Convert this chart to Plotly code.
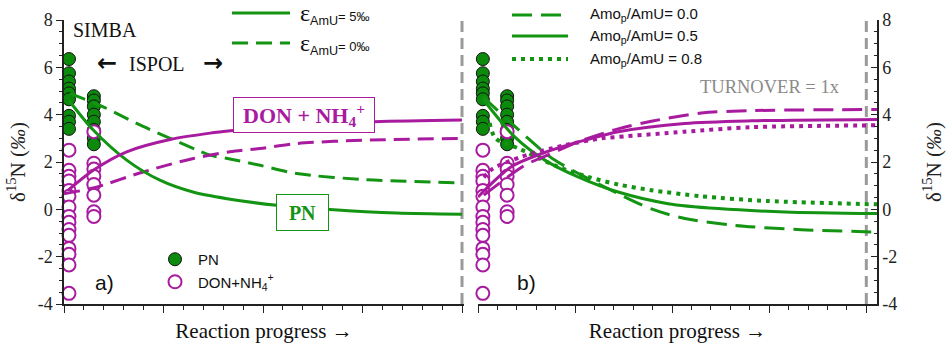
import plotly.graph_objects as go

# ---------------- data ----------------
SIMBA_X = 0.25
ISPOL_X = 1.5
TURNOVER_X = 20.0
TURNOVER_Y = [-4.0, 8.08]

simba_pn = [6.35, 5.75, 5.4, 5.1, 4.9, 4.65, 3.95, 3.7, 3.4]
ispol_pn = [4.78, 4.6, 4.35, 4.0, 3.7, 3.35, 3.0, 2.75]
simba_don = [2.5, 1.65, 1.4, 1.2, 0.8, 0.55, 0.1, -0.3, -0.55, -0.85, -1.1, -1.65, -1.9, -2.35, -3.55]
ispol_don = [3.28, 1.95, 1.7, 1.4, 1.05, 0.6, -0.1, -0.3]

# panel a) : epsilon AmU = 5 permil (solid) and 0 permil (dashed)
a_pn_eps5_x = [0.25, 1.47, 3.15, 4.82, 6.48, 8.19, 10.69, 13.37, 16.72, 20.0]
a_pn_eps5_y = [4.6, 3.35, 2.08, 1.23, 0.73, 0.45, 0.17, -0.01, -0.16, -0.21]
a_pn_eps0_x = [0.3, 1.97, 3.65, 5.33, 7.34, 8.34, 9.85, 11.69, 15.04, 20.0]
a_pn_eps0_y = [4.9, 4.33, 3.63, 3.0, 2.29, 2.13, 1.86, 1.51, 1.26, 1.12]
a_don_eps5_x = [0.2, 1.47, 3.15, 5.33, 7.34, 8.5, 11.5, 15.6, 20.0]
a_don_eps5_y = [0.8, 1.65, 2.43, 2.95, 3.22, 3.33, 3.56, 3.7, 3.77]
a_don_eps0_x = [0.0, 1.47, 3.98, 6.5, 8.34, 9.85, 11.69, 15.04, 20.0]
a_don_eps0_y = [0.66, 0.9, 1.58, 2.15, 2.43, 2.57, 2.78, 2.92, 3.0]

# panel b) : Amo_p/AmU = 0.0 (dashed), 0.5 (solid), 0.8 (dotted)
b_pn_00_x = [0.26, 2.58, 3.95, 7.22, 8.93, 10.65, 13.23, 16.66, 20.55]
b_pn_00_y = [4.75, 3.0, 2.08, 0.66, 0.02, -0.39, -0.68, -0.86, -0.96]
b_pn_05_x = [0.26, 1.89, 3.44, 5.15, 7.22, 9.79, 12.37, 15.81, 20.55]
b_pn_05_y = [4.65, 3.06, 2.08, 1.37, 0.73, 0.24, 0.03, -0.11, -0.18]
b_pn_08_x = [0.6, 0.9, 2.1, 4.1, 5.67, 7.22, 8.93, 11.5, 14.95, 20.55]
b_pn_08_y = [3.65, 3.0, 2.57, 1.8, 1.37, 1.05, 0.81, 0.55, 0.35, 0.21]
b_don_00_x = [0.3, 2.41, 3.78, 5.15, 7.22, 8.93, 11.5, 14.09, 20.55]
b_don_00_y = [0.6, 1.86, 2.36, 2.85, 3.4, 3.72, 4.07, 4.17, 4.22]
b_don_05_x = [0.0, 1.72, 3.78, 5.5, 7.22, 10.65, 14.09, 20.55]
b_don_05_y = [0.52, 1.8, 2.5, 2.92, 3.28, 3.63, 3.74, 3.8]
b_don_08_x = [0.3, 0.77, 2.23, 4.47, 6.36, 7.22, 10.65, 14.09, 20.55]
b_don_08_y = [1.35, 1.72, 2.22, 2.71, 3.0, 3.06, 3.28, 3.47, 3.55]

y_ticks = [-4, -2, 0, 2, 4, 6, 8]
y_ticktext = ["-4", "-2", "0", "2", "4", "6", "8"]

# ---------------- styling ----------------
W, H = 946, 349
ML, MR, MT, MB = 64, 69, 20, 45
PW = W - ML - MR
PH = H - MT - MB


def px(xp):
    return (xp - ML) / PW


def py(yp):
    return (H - MB - yp) / PH


GREEN = "#139413"
GREEN_FILL = "#0c8a0c"
PURPLE = "#a81b9f"
GRAY = "#9a9a9a"
SERIF = "Liberation Serif"
SANS = "Liberation Sans"
DASH_A = "16px,8px"
DASH_B = "20px,9px"
DOT = "4px,5px"

fig = go.Figure()

# turnover = 1x dashed lines (both panels)
for xa, ya in [("x", "y"), ("x2", "y2")]:
    fig.add_trace(go.Scatter(
        x=[TURNOVER_X, TURNOVER_X], y=TURNOVER_Y, mode="lines", showlegend=False,
        line=dict(color=GRAY, width=3, dash="11px,6px"), cliponaxis=False,
        xaxis=xa, yaxis=ya, hoverinfo="skip"))

# markers (both panels)
for xa, ya, show in [("x", "y", True), ("x2", "y2", False)]:
    fig.add_trace(go.Scatter(
        x=[SIMBA_X] * len(simba_pn) + [ISPOL_X] * len(ispol_pn),
        y=simba_pn + ispol_pn, mode="markers", name="PN",
        marker=dict(size=13, color=GREEN_FILL, line=dict(color="#111", width=1)),
        cliponaxis=False, xaxis=xa, yaxis=ya, showlegend=show))
    fig.add_trace(go.Scatter(
        x=[SIMBA_X] * len(simba_don) + [ISPOL_X] * len(ispol_don),
        y=simba_don + ispol_don, mode="markers", name="DON+NH<sub>4</sub><sup>+</sup>",
        marker=dict(size=13, color="white", line=dict(color=PURPLE, width=2)),
        cliponaxis=False, xaxis=xa, yaxis=ya, showlegend=show))


def curve(x, y, color, dash, width, xa, ya, name):
    fig.add_trace(go.Scatter(
        x=x, y=y, mode="lines", name=name, showlegend=False,
        line=dict(color=color, dash=dash, width=width, shape="spline", smoothing=0.8),
        cliponaxis=False, xaxis=xa, yaxis=ya))


curve(a_pn_eps0_x, a_pn_eps0_y, GREEN, DASH_A, 3, "x", "y", "PN eps0")
curve(a_don_eps0_x, a_don_eps0_y, PURPLE, DASH_A, 3, "x", "y", "DON eps0")
curve(a_pn_eps5_x, a_pn_eps5_y, GREEN, "solid", 3, "x", "y", "PN eps5")
curve(a_don_eps5_x, a_don_eps5_y, PURPLE, "solid", 3, "x", "y", "DON eps5")

curve(b_pn_00_x, b_pn_00_y, GREEN, DASH_B, 3, "x2", "y2", "PN 0.0")
curve(b_pn_05_x, b_pn_05_y, GREEN, "solid", 3, "x2", "y2", "PN 0.5")
curve(b_pn_08_x, b_pn_08_y, GREEN, DOT, 4, "x2", "y2", "PN 0.8")
curve(b_don_00_x, b_don_00_y, PURPLE, DASH_B, 3, "x2", "y2", "DON 0.0")
curve(b_don_05_x, b_don_05_y, PURPLE, "solid", 3, "x2", "y2", "DON 0.5")
curve(b_don_08_x, b_don_08_y, PURPLE, DOT, 4, "x2", "y2", "DON 0.8")

axis_common = dict(showgrid=False, zeroline=False, linecolor="#222", linewidth=1.5,
                   tickcolor="#222", tickwidth=1.2, mirror=False, automargin=False)

ytitle = dict(text="δ<sup>15</sup>N (<i>‰</i>)", font=dict(family=SERIF, size=21, color="#222"))
xtitle = dict(text="Reaction progress →", standoff=12,
              font=dict(family=SERIF, size=21, color="#111"))
tickfont = dict(family=SERIF, size=18, color="#222")

fig.update_layout(
    width=W, height=H, margin=dict(l=ML, r=MR, t=MT, b=MB, autoexpand=False),
    paper_bgcolor="white", plot_bgcolor="white",
    xaxis=dict(domain=[0, (464 - ML) / PW], range=[0, 20.1], anchor="y",
               showline=True, ticks="outside", ticklen=7, tickvals=[0, 5, 10, 15, 20],
               showticklabels=False,
               minor=dict(ticks="outside", ticklen=4, dtick=1, tickcolor="#222"),
               title=xtitle, **axis_common),
    yaxis=dict(domain=[0, 1], range=[-4, 8], anchor="x", showline=True,
               ticks="outside", ticklen=6, tickvals=y_ticks, ticktext=y_ticktext,
               tickfont=tickfont,
               minor=dict(ticks="outside", ticklen=3, dtick=0.5, tickcolor="#222"),
               title=dict(standoff=6, **ytitle), **axis_common),
    xaxis2=dict(domain=[(478 - ML) / PW, 1], range=[0, 20.55], anchor="y2",
                showline=True, ticks="outside", ticklen=7, tickvals=[0, 5, 10, 15, 20],
                showticklabels=False,
                minor=dict(ticks="outside", ticklen=4, dtick=1, tickcolor="#222"),
                title=xtitle, **axis_common),
    yaxis2=dict(domain=[0, 1], range=[-4, 8], anchor="x2", side="right", showline=True,
                ticks="inside", ticklen=6, tickvals=y_ticks, ticktext=y_ticktext,
                tickfont=tickfont,
                minor=dict(ticks="inside", ticklen=3, dtick=0.5, tickcolor="#222"),
                title=dict(standoff=30, **ytitle), **axis_common),
    legend=dict(x=px(152), y=py(243), xanchor="left", yanchor="top",
                bgcolor="rgba(0,0,0,0)", font=dict(family=SANS, size=15, color="#111"),
                tracegroupgap=0, itemwidth=36),
    showlegend=True,
)

shapes = []


def legline(x0, x1, y, color, dash, width):
    shapes.append(dict(type="line", xref="paper", yref="paper", x0=px(x0), x1=px(x1),
                       y0=py(y), y1=py(y), line=dict(color=color, dash=dash, width=width)))


legline(232, 290, 13, GREEN, "solid", 3)
legline(232, 290, 43, GREEN, DASH_A, 3)
legline(512, 568, 15, GREEN, DASH_B, 3)
legline(512, 568, 36, GREEN, "solid", 3)
legline(512, 568, 59, GREEN, DOT, 4)
fig.update_layout(shapes=shapes)

ann = []


def text(x, y, t, size, family=SERIF, color="#111", xanchor="center", **kw):
    ann.append(dict(x=px(x), y=py(y), xref="paper", yref="paper", text=t, showarrow=False,
                    xanchor=xanchor, yanchor="middle",
                    font=dict(family=family, size=size, color=color), **kw))


text(105, 30, "SIMBA", 20)
text(157, 64, "ISPOL", 20)
text(107, 63, "<b>←</b>", 24, family="DejaVu Sans")
text(213, 63, "<b>→</b>", 24, family="DejaVu Sans")
eps = "<span style='font-family:Liberation Serif;font-size:24px'>ε</span>"
rest5 = "<span style='font-size:13px'>= 5‰</span>"
rest0 = "<span style='font-size:13px'>= 0‰</span>"
text(298, 14, eps + "<sub>AmU</sub>" + rest5, 18, family=SANS, xanchor="left")
text(298, 44, eps + "<sub>AmU</sub>" + rest0, 18, family=SANS, xanchor="left")
text(588, 15, "Amo<sub>p</sub>/AmU= 0.0", 15, family=SANS, xanchor="left")
text(588, 36, "Amo<sub>p</sub>/AmU= 0.5", 15, family=SANS, xanchor="left")
text(588, 59, "Amo<sub>p</sub>/AmU = 0.8", 15, family=SANS, xanchor="left")
text(304, 115, "<b>DON + NH<sub>4</sub><sup>+</sup></b>", 22, color=PURPLE,
     bordercolor=PURPLE, borderwidth=1, bgcolor="white", width=138, height=32, borderpad=1)
text(302.5, 212, "<b>PN</b>", 20, color=GREEN,
     bordercolor=GREEN, borderwidth=1, bgcolor="white", width=49, height=33, borderpad=1)
text(104, 282, "a)", 21, family=SANS)
text(526, 282, "b)", 21, family=SANS)
text(770, 87, "TURNOVER = 1x", 18.5, color="#8a8a8a")
fig.update_layout(annotations=ann)

fig.write_html("out.html")
